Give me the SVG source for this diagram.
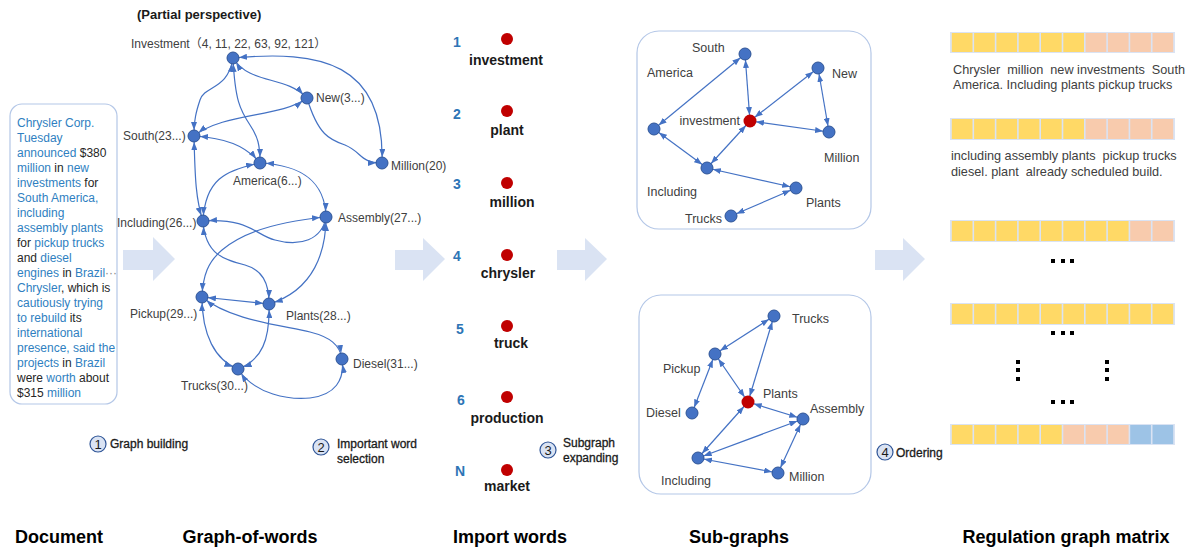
<svg xmlns="http://www.w3.org/2000/svg" width="1193" height="551" viewBox="0 0 1193 551">
<style>
text{font-family:"Liberation Sans",Arial,sans-serif}
.e{fill:none;stroke:#4472c4;stroke-width:1.2;marker-start:url(#a);marker-end:url(#a)}
.e1{fill:none;stroke:#4472c4;stroke-width:1.2;marker-end:url(#a)}
.n{fill:#4472c4;stroke:#2f5597;stroke-width:1}
.r{fill:#c00000}
.l{font-size:12px;fill:#404040}
.s{font-size:12.5px;fill:#404040}
.b{fill:#2f7fc1}
.k{fill:#262626}
.big{fill:#dae3f3}
.box{fill:none;stroke:#b4c7e7;stroke-width:1.2}
.num{font-size:14px;font-weight:bold;fill:#2e75b6}
.w{font-size:14px;font-weight:bold;fill:#1a1a1a;text-anchor:middle}
.step{font-size:12px;fill:#1a1a1a;stroke:#1a1a1a;stroke-width:0.3}
.cn{fill:#dae3f3;stroke:#2f5597;stroke-width:1.2}
.ct{font-size:13px;fill:#1a1a1a;text-anchor:middle}
.title{font-size:18px;font-weight:bold;fill:#000;text-anchor:middle}
.y{fill:#ffd966}.p{fill:#f8cbad}.bl{fill:#9dc3e6}
.rowbg{fill:#dae3f3}
.mt{font-size:12.7px;fill:#404040;white-space:pre}
.d{fill:#000}
</style>
<defs>
<marker id="a" viewBox="0 0 8 6" refX="14" refY="3" markerWidth="8" markerHeight="6" markerUnits="userSpaceOnUse" orient="auto-start-reverse"><path d="M0,0 L8,3 L0,6 z" fill="#4472c4"/></marker>
</defs>

<!-- Document -->
<g id="document">
<rect class="box" x="10" y="104" width="107" height="300" rx="12"/>
<text font-size="12" x="17">
<tspan x="17" y="127" class="b">Chrysler Corp.</tspan>
<tspan x="17" y="142" class="b">Tuesday</tspan>
<tspan x="17" y="157" class="b">announced <tspan class="k">$380</tspan></tspan>
<tspan x="17" y="172" class="b">million <tspan class="k">in</tspan> new</tspan>
<tspan x="17" y="187" class="b">investments <tspan class="k">for</tspan></tspan>
<tspan x="17" y="202" class="b">South America,</tspan>
<tspan x="17" y="217" class="b">including</tspan>
<tspan x="17" y="232" class="b">assembly plants</tspan>
<tspan x="17" y="247" class="k">for <tspan class="b">pickup trucks</tspan></tspan>
<tspan x="17" y="262" class="k">and <tspan class="b">diesel</tspan></tspan>
<tspan x="17" y="277" class="b">engines <tspan class="k">in</tspan> Brazil<tspan fill="#888">···</tspan></tspan>
<tspan x="17" y="292" class="b">Chrysler<tspan class="k">, which is</tspan></tspan>
<tspan x="17" y="307" class="b">cautiously trying</tspan>
<tspan x="17" y="322" class="b">to rebuild <tspan class="k">its</tspan></tspan>
<tspan x="17" y="337" class="b">international</tspan>
<tspan x="17" y="352" class="b">presence, said the</tspan>
<tspan x="17" y="367" class="b">projects <tspan class="k">in</tspan> Brazil</tspan>
<tspan x="17" y="382" class="k">were <tspan class="b">worth</tspan> about</tspan>
<tspan x="17" y="397" class="k">$315 <tspan class="b">million</tspan></tspan>
</text>
</g>

<!-- big arrows -->
<g id="flow-arrows">
<polygon class="big" points="123,250 153,250 153,237 175,259 153,281 153,270 123,270"/>
<polygon class="big" points="395,250 423,250 423,238 445,259 423,281 423,270 395,270"/>
<polygon class="big" points="557,250 585,250 585,238 607,259 585,281 585,270 557,270"/>
<polygon class="big" points="875,250 903,250 903,238 925,259 903,281 903,270 875,270"/>
</g>

<!-- Graph of words -->
<text x="137" y="19" font-size="13" font-weight="bold" fill="#1a1a1a">(Partial perspective)</text>
<g id="gow-connectors">
<path class="e" d="M233,58 C320,50 385,62 382,163"/>
<path class="e" d="M233,58 C250,85 285,75 307,98"/>
<path class="e" d="M233,58 C228,90 205,85 200,100 C196,112 194,120 194,136"/>
<path class="e" d="M233,58 C235,100 240,110 250,125 C258,137 260,145 260,163"/>
<path class="e" d="M307,98 C280,118 225,112 194,136"/>
<path class="e1" d="M307,98 C318,135 330,140 345,145 C362,152 360,163 382,163"/>
<path class="e" d="M194,136 C225,138 245,145 260,163"/>
<path class="e" d="M194,136 C195,180 196,200 203,221"/>
<path class="e" d="M260,163 C225,170 205,180 203,221"/>
<path class="e" d="M260,163 C300,165 325,180 326,217"/>
<path class="e" d="M203,221 C250,218 255,235 275,240 C300,247 322,240 326,217"/>
<path class="e" d="M326,217 C270,222 240,235 222,250 C208,262 203,275 202,297"/>
<path class="e" d="M203,221 C205,255 225,260 245,265 C262,270 269,282 269,304"/>
<path class="e" d="M326,217 C326,250 315,290 269,304"/>
<path class="e" d="M202,297 L269,304"/>
<path class="e" d="M202,297 C202,335 215,360 238,369"/>
<path class="e" d="M269,304 C270,340 262,360 238,369"/>
<path class="e" d="M202,297 C230,320 280,325 310,332 C330,337 340,345 342,359"/>
<path class="e" d="M238,369 C255,395 290,400 310,398 C335,395 345,380 342,359"/>
</g>
<g id="gow-investment"><circle class="n" cx="233" cy="58" r="6"/><text class="l" x="131" y="48">Investment<tspan font-family="'Noto Sans CJK SC',sans-serif">（</tspan>4, 11, 22, 63, 92, 121<tspan font-family="'Noto Sans CJK SC',sans-serif">）</tspan></text></g>
<g id="gow-new"><circle class="n" cx="307" cy="98" r="6"/><text class="l" x="316" y="102">New(3...)</text></g>
<g id="gow-south"><circle class="n" cx="194" cy="136" r="6"/><text class="l" x="123" y="140">South(23...)</text></g>
<g id="gow-america"><circle class="n" cx="260" cy="163" r="6"/><text class="l" x="233" y="185">America(6...)</text></g>
<g id="gow-million"><circle class="n" cx="382" cy="163" r="6"/><text class="l" x="391" y="170">Million(20)</text></g>
<g id="gow-including"><circle class="n" cx="203" cy="221" r="6"/><text class="l" x="117" y="227">Including(26...)</text></g>
<g id="gow-assembly"><circle class="n" cx="326" cy="217" r="6"/><text class="l" x="338" y="222">Assembly(27...)</text></g>
<g id="gow-pickup"><circle class="n" cx="202" cy="297" r="6"/><text class="l" x="130" y="318">Pickup(29...)</text></g>
<g id="gow-plants"><circle class="n" cx="269" cy="304" r="6"/><text class="l" x="286" y="320">Plants(28...)</text></g>
<g id="gow-diesel"><circle class="n" cx="342" cy="359" r="6"/><text class="l" x="353" y="368">Diesel(31...)</text></g>
<g id="gow-trucks"><circle class="n" cx="238" cy="369" r="6"/><text class="l" x="181" y="390">Trucks(30...)</text></g>

<!-- step labels -->
<g id="step1"><circle class="cn" cx="98" cy="444" r="8"/><text class="ct" x="98" y="448.5">1</text><text class="step" x="110" y="448">Graph building</text></g>
<g id="step2"><circle class="cn" cx="321" cy="447" r="8"/><text class="ct" x="321" y="451.5">2</text><text class="step" x="337" y="448">Important word</text><text class="step" x="337" y="463">selection</text></g>
<g id="step3"><circle class="cn" cx="548" cy="450" r="8"/><text class="ct" x="548" y="454.5">3</text><text class="step" x="563" y="447">Subgraph</text><text class="step" x="563" y="462">expanding</text></g>
<g id="step4"><circle class="cn" cx="885" cy="452" r="8"/><text class="ct" x="885" y="456.5">4</text><text class="step" x="896" y="457">Ordering</text></g>

<!-- Import words -->
<g id="iw-1"><text class="num" x="453" y="47">1</text><circle class="r" cx="507" cy="39" r="6"/><text class="w" x="506" y="65">investment</text></g>
<g id="iw-2"><text class="num" x="453" y="119">2</text><circle class="r" cx="507" cy="111" r="6"/><text class="w" x="507" y="135">plant</text></g>
<g id="iw-3"><text class="num" x="453" y="189">3</text><circle class="r" cx="507" cy="183" r="6"/><text class="w" x="512" y="207">million</text></g>
<g id="iw-4"><text class="num" x="453" y="261">4</text><circle class="r" cx="507" cy="255" r="6"/><text class="w" x="508" y="278">chrysler</text></g>
<g id="iw-5"><text class="num" x="456" y="334">5</text><circle class="r" cx="507" cy="326" r="6"/><text class="w" x="511" y="348">truck</text></g>
<g id="iw-6"><text class="num" x="457" y="405">6</text><circle class="r" cx="507" cy="397" r="6"/><text class="w" x="507" y="423">production</text></g>
<g id="iw-n"><text class="num" x="455" y="476">N</text><circle class="r" cx="507" cy="470" r="6"/><text class="w" x="507" y="491">market</text></g>

<!-- Sub-graph 1 -->
<rect class="box" x="637" y="31" width="234" height="198" rx="22"/>
<g id="sg1-connectors">
<line class="e" x1="745" y1="54" x2="654" y2="129"/>
<line class="e" x1="745" y1="54" x2="750" y2="121"/>
<line class="e" x1="750" y1="121" x2="818" y2="68"/>
<line class="e" x1="818" y1="68" x2="829" y2="132"/>
<line class="e" x1="750" y1="121" x2="829" y2="132"/>
<line class="e" x1="750" y1="121" x2="707" y2="168"/>
<line class="e" x1="654" y1="129" x2="707" y2="168"/>
<line class="e" x1="707" y1="168" x2="796" y2="188"/>
<line class="e" x1="796" y1="188" x2="731" y2="216"/>
</g>
<g id="sg1-south"><circle class="n" cx="745" cy="54" r="6"/><text class="s" x="692" y="52">South</text></g>
<g id="sg1-america"><circle class="n" cx="654" cy="129" r="6"/><text class="s" x="647" y="77">America</text></g>
<g id="sg1-new"><circle class="n" cx="818" cy="68" r="6"/><text class="s" x="832" y="78">New</text></g>
<g id="sg1-investment"><circle class="r" cx="750" cy="121" r="6.5"/><text class="s" x="740" y="125" text-anchor="end">investment</text></g>
<g id="sg1-million"><circle class="n" cx="829" cy="132" r="6"/><text class="s" x="824" y="162">Million</text></g>
<g id="sg1-including"><circle class="n" cx="707" cy="168" r="6"/><text class="s" x="647" y="196">Including</text></g>
<g id="sg1-plants"><circle class="n" cx="796" cy="188" r="6"/><text class="s" x="806" y="207">Plants</text></g>
<g id="sg1-trucks"><circle class="n" cx="731" cy="216" r="6"/><text class="s" x="685" y="223">Trucks</text></g>

<!-- Sub-graph 2 -->
<rect class="box" x="639" y="295" width="232" height="199" rx="22"/>
<g id="sg2-connectors">
<line class="e" x1="774" y1="316" x2="715" y2="354"/>
<line class="e" x1="774" y1="316" x2="748" y2="402"/>
<line class="e" x1="715" y1="354" x2="748" y2="402"/>
<line class="e" x1="715" y1="354" x2="692" y2="413"/>
<line class="e" x1="748" y1="402" x2="803" y2="419"/>
<line class="e" x1="748" y1="402" x2="698" y2="458"/>
<line class="e" x1="698" y1="458" x2="803" y2="419"/>
<line class="e" x1="803" y1="419" x2="778" y2="473"/>
<line class="e" x1="698" y1="458" x2="778" y2="473"/>
</g>
<g id="sg2-trucks"><circle class="n" cx="774" cy="316" r="6"/><text class="s" x="792" y="323">Trucks</text></g>
<g id="sg2-pickup"><circle class="n" cx="715" cy="354" r="6"/><text class="s" x="663" y="373">Pickup</text></g>
<g id="sg2-plants"><circle class="r" cx="748" cy="402" r="6.5"/><text class="s" x="763" y="398">Plants</text></g>
<g id="sg2-diesel"><circle class="n" cx="692" cy="413" r="6"/><text class="s" x="646" y="417">Diesel</text></g>
<g id="sg2-assembly"><circle class="n" cx="803" cy="419" r="6"/><text class="s" x="810" y="413">Assembly</text></g>
<g id="sg2-including"><circle class="n" cx="698" cy="458" r="6"/><text class="s" x="661" y="485">Including</text></g>
<g id="sg2-million"><circle class="n" cx="778" cy="473" r="6"/><text class="s" x="789" y="481">Million</text></g>

<!-- Matrix -->
<g id="matrix">
<g id="row1">
<rect class="rowbg" x="950" y="32" width="225" height="21"/>
<rect class="y" x="951.8" y="33" width="20.7" height="19"/><rect class="y" x="974.1" y="33" width="20.7" height="19"/><rect class="y" x="996.4" y="33" width="20.7" height="19"/><rect class="y" x="1018.7" y="33" width="20.7" height="19"/><rect class="y" x="1041" y="33" width="20.7" height="19"/><rect class="y" x="1063.3" y="33" width="20.7" height="19"/><rect class="p" x="1085.6" y="33" width="20.7" height="19"/><rect class="p" x="1107.9" y="33" width="20.7" height="19"/><rect class="p" x="1130.2" y="33" width="20.7" height="19"/><rect class="p" x="1152.5" y="33" width="20.7" height="19"/>
</g>
<text class="mt" x="953" y="74">Chrysler  million  new investments  South</text>
<text class="mt" x="953" y="89">America. Including plants pickup trucks</text>
<g id="row2">
<rect class="rowbg" x="950" y="118" width="225" height="22"/>
<rect class="y" x="951.8" y="119" width="20.7" height="20"/><rect class="y" x="974.1" y="119" width="20.7" height="20"/><rect class="y" x="996.4" y="119" width="20.7" height="20"/><rect class="y" x="1018.7" y="119" width="20.7" height="20"/><rect class="y" x="1041" y="119" width="20.7" height="20"/><rect class="y" x="1063.3" y="119" width="20.7" height="20"/><rect class="p" x="1085.6" y="119" width="20.7" height="20"/><rect class="p" x="1107.9" y="119" width="20.7" height="20"/><rect class="p" x="1130.2" y="119" width="20.7" height="20"/><rect class="p" x="1152.5" y="119" width="20.7" height="20"/>
</g>
<text class="mt" x="951" y="160">including assembly plants  pickup trucks</text>
<text class="mt" x="951" y="176">diesel. plant  already scheduled build.</text>
<g id="row3">
<rect class="rowbg" x="950" y="220" width="225" height="22"/>
<rect class="y" x="951.8" y="221" width="20.7" height="20"/><rect class="y" x="974.1" y="221" width="20.7" height="20"/><rect class="y" x="996.4" y="221" width="20.7" height="20"/><rect class="y" x="1018.7" y="221" width="20.7" height="20"/><rect class="y" x="1041" y="221" width="20.7" height="20"/><rect class="y" x="1063.3" y="221" width="20.7" height="20"/><rect class="y" x="1085.6" y="221" width="20.7" height="20"/><rect class="y" x="1107.9" y="221" width="20.7" height="20"/><rect class="p" x="1130.2" y="221" width="20.7" height="20"/><rect class="p" x="1152.5" y="221" width="20.7" height="20"/>
</g>
<g id="row4">
<rect class="rowbg" x="950" y="303" width="225" height="22"/>
<rect class="y" x="951.8" y="304" width="20.7" height="20"/><rect class="y" x="974.1" y="304" width="20.7" height="20"/><rect class="y" x="996.4" y="304" width="20.7" height="20"/><rect class="y" x="1018.7" y="304" width="20.7" height="20"/><rect class="y" x="1041" y="304" width="20.7" height="20"/><rect class="y" x="1063.3" y="304" width="20.7" height="20"/><rect class="y" x="1085.6" y="304" width="20.7" height="20"/><rect class="y" x="1107.9" y="304" width="20.7" height="20"/><rect class="y" x="1130.2" y="304" width="20.7" height="20"/><rect class="y" x="1152.5" y="304" width="20.7" height="20"/>
</g>
<g id="row5">
<rect class="rowbg" x="950" y="424" width="225" height="21"/>
<rect class="y" x="951.8" y="425" width="20.7" height="19"/><rect class="y" x="974.1" y="425" width="20.7" height="19"/><rect class="y" x="996.4" y="425" width="20.7" height="19"/><rect class="y" x="1018.7" y="425" width="20.7" height="19"/><rect class="y" x="1041" y="425" width="20.7" height="19"/><rect class="p" x="1063.3" y="425" width="20.7" height="19"/><rect class="p" x="1085.6" y="425" width="20.7" height="19"/><rect class="p" x="1107.9" y="425" width="20.7" height="19"/><rect class="bl" x="1130.2" y="425" width="20.7" height="19"/><rect class="bl" x="1152.5" y="425" width="20.7" height="19"/>
</g>
<g id="ellipses">
<rect class="d" x="1051" y="259" width="4" height="4"/><rect class="d" x="1061" y="259" width="4" height="4"/><rect class="d" x="1070" y="259" width="4" height="4"/>
<rect class="d" x="1051" y="331" width="4" height="4"/><rect class="d" x="1061" y="331" width="4" height="4"/><rect class="d" x="1070" y="331" width="4" height="4"/>
<rect class="d" x="1051" y="400" width="4" height="4"/><rect class="d" x="1061" y="400" width="4" height="4"/><rect class="d" x="1070" y="400" width="4" height="4"/>
<rect class="d" x="1016" y="360" width="4" height="4"/><rect class="d" x="1016" y="368" width="4" height="4"/><rect class="d" x="1016" y="377" width="4" height="4"/>
<rect class="d" x="1105" y="360" width="4" height="4"/><rect class="d" x="1105" y="368" width="4" height="4"/><rect class="d" x="1105" y="377" width="4" height="4"/>
</g>
</g>

<!-- Column titles -->
<g id="titles">
<text class="title" x="59" y="543">Document</text>
<text class="title" x="250" y="543">Graph-of-words</text>
<text class="title" x="510" y="543">Import words</text>
<text class="title" x="739" y="543">Sub-graphs</text>
<text class="title" x="1066" y="543">Regulation graph matrix</text>
</g>
</svg>
